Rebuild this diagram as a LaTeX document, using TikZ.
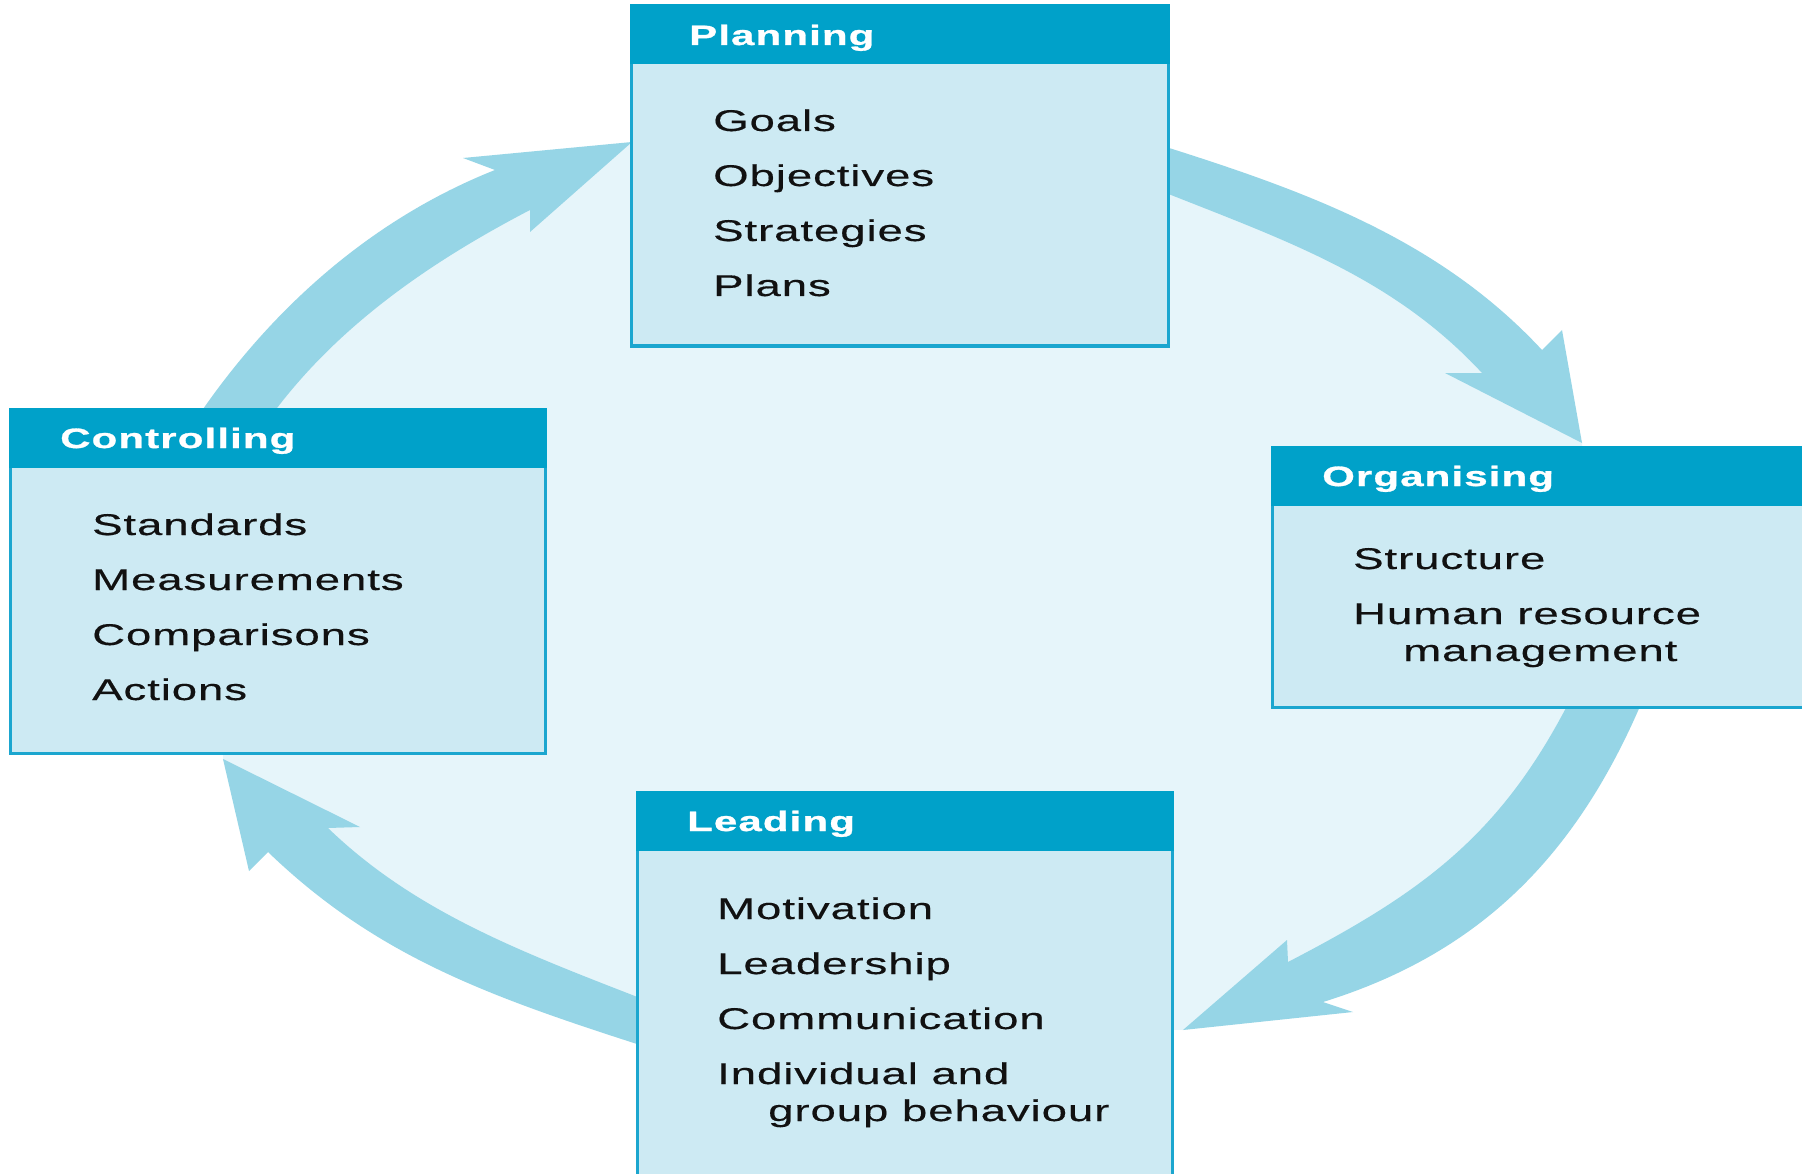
\documentclass[tikz,border=0pt]{standalone}
\usepackage{fontspec}
\setmainfont{Liberation Sans}
\newfontfamily\itemfont[FakeStretch=1.52,LetterSpace=3,FakeBold=0.4]{Liberation Sans}
\newfontfamily\headfont[FakeStretch=1.5,LetterSpace=4,FakeBold=1]{Liberation Sans Bold}
\definecolor{headblue}{HTML}{00A1C9}
\definecolor{edgeblue}{HTML}{1BA6CF}
\definecolor{boxfill}{HTML}{CDEAF3}
\definecolor{arrowblue}{HTML}{96D5E6}
\definecolor{ringfill}{HTML}{E6F5FA}
\definecolor{textblack}{HTML}{111111}
\begin{document}
\begin{tikzpicture}[x=1pt,y=-1pt,
  boxbody/.style={draw=edgeblue, line width=3pt, fill=boxfill, inner sep=0pt, outer sep=0pt, anchor=north west},
  boxhead/.style={draw=headblue, line width=3pt, fill=headblue, inner sep=0pt, outer sep=0pt, anchor=north west, minimum height=57pt},
  boxtitle/.style={font=\headfont\fontsize{28}{32}\selectfont, text=white, anchor=base west, inner sep=0pt},
  listitem/.style={font=\itemfont\fontsize{30}{36}\selectfont, text=textblack, anchor=base west, inner sep=0pt},
  cyclearrow/.style={fill=arrowblue}
]
\useasboundingbox (0,0) rectangle (1802,1174);
\clip (0,0) rectangle (1802,1174);
\fill[white] (0,0) rectangle (1802,1174);

% light area enclosed by the cycle
\fill[ringfill] (223,760) -- (237.5,412)
  .. controls (307.5,314.5) and (403,239.5) .. (512.5,190) -- (632,142)
  -- (1166,170) .. controls (1297.5,216.5) and (1417,259) .. (1512,361.5) -- (1582,443)
  -- (1604.5,704) .. controls (1537.5,846) and (1451,923) .. (1305.5,982) -- (1183,1030)
  -- (640,1021.5) .. controls (503.5,973.5) and (395,933.5) .. (298,840) -- cycle;

% Controlling -> Planning
\fill[cyclearrow] (201,412) .. controls (275,305) and (374,218) .. (495,170)
  -- (463,158) -- (632,142) -- (530,232) -- (530,210)
  .. controls (432,261) and (340,324) .. (274,412) -- cycle;
% Planning -> Organising
\fill[cyclearrow] (1166,147) .. controls (1308,192) and (1440,240) .. (1542,350)
  -- (1562,330) -- (1582,443) -- (1445,373) -- (1482,373)
  .. controls (1394,278) and (1287,241) .. (1166,193) -- cycle;
% Organising -> Leading
\fill[cyclearrow] (1641,704) .. controls (1576,855) and (1481,953) .. (1323,1002)
  -- (1353,1012) -- (1183,1030) -- (1287,940) -- (1288,962)
  .. controls (1421,893) and (1499,837) .. (1568,704) -- cycle;
% Leading -> Controlling
\fill[cyclearrow] (640,1045) .. controls (488,996) and (376,956) .. (268,852)
  -- (249,871) -- (223,759) -- (360,827) -- (328,828)
  .. controls (414,911) and (519,951) .. (640,998) -- cycle;

% Planning
\node[boxbody, minimum width=537pt, minimum height=340pt] (plan) at (631,6) {};
\node[boxhead, minimum width=537pt] (planhead) at (631,6) {};
\node[boxtitle] (plantitle) at (689,45) {Planning};
\node[listitem] (goals) at (713,131) {Goals};
\node[listitem] (objectives) at (713,186) {Objectives};
\node[listitem] (strategies) at (713,241) {Strategies};
\node[listitem] (plans) at (713,296) {Plans};

% Controlling
\node[boxbody, minimum width=535pt, minimum height=344pt] (ctrl) at (10,409) {};
\node[boxhead, minimum width=535pt] (ctrlhead) at (10,409) {};
\node[boxtitle] (ctrltitle) at (60,448) {Controlling};
\node[listitem] (standards) at (92,535) {Standards};
\node[listitem] (measurements) at (92,590) {Measurements};
\node[listitem] (comparisons) at (92,645) {Comparisons};
\node[listitem] (actions) at (92,700) {Actions};

% Organising
\node[boxbody, minimum width=560pt, minimum height=260pt] (org) at (1272,447) {};
\node[boxhead, minimum width=560pt] (orghead) at (1272,447) {};
\node[boxtitle] (orgtitle) at (1322,486) {Organising};
\node[listitem] (structure) at (1353,569) {Structure};
\node[listitem] (hrm) at (1353,624) {Human resource};
\node[listitem] (hrmcont) at (1403,661) {management};

% Leading
\node[boxbody, minimum width=535pt, minimum height=400pt] (lead) at (637,792) {};
\node[boxhead, minimum width=535pt] (leadhead) at (637,792) {};
\node[boxtitle] (leadtitle) at (687,831) {Leading};
\node[listitem] (motivation) at (717,919) {Motivation};
\node[listitem] (leadership) at (717,974) {Leadership};
\node[listitem] (communication) at (717,1029) {Communication};
\node[listitem] (behaviour) at (717,1084) {Individual and};
\node[listitem] (behaviourcont) at (768,1121) {group behaviour};
\end{tikzpicture}
\end{document}
